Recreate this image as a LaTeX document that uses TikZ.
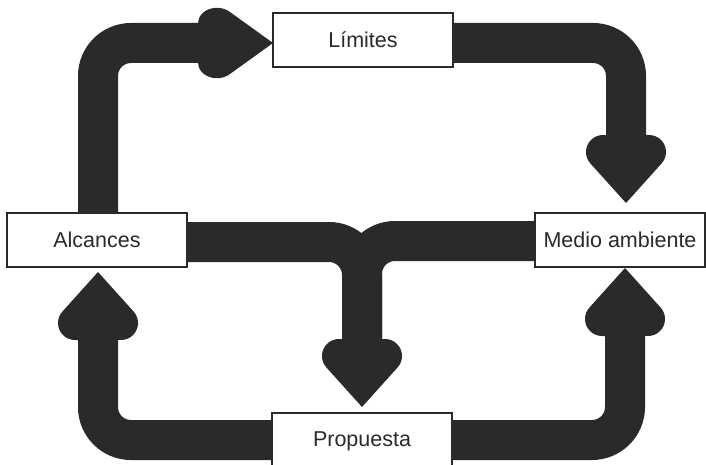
\documentclass[tikz,border=0pt]{standalone}
\usepackage{fontspec}
\setmainfont{Liberation Sans}
\usetikzlibrary{calc}
\pgfdeclarelayer{back}
\pgfdeclarelayer{bg}
\pgfsetlayers{back,bg,main}
\definecolor{ink}{RGB}{42,42,42}
\tikzset{
  box/.style={draw=ink, line width=1.6pt, fill=white, inner sep=0pt, outer sep=0pt,
    minimum height=54pt, font=\fontsize{21.5}{25}\selectfont, text=ink},
  bar/.style={draw=ink, line width=40pt, rounded corners=33pt},
  heart/.pic={\fill[ink] (0,0) -- (-39.61,35.66) arc[start angle=48, end angle=180, radius=17]
      -- (-68,-23) arc[start angle=180, end angle=312, radius=17] -- cycle;}
}
\begin{document}
\begin{tikzpicture}[x=1pt, y=-1pt]
\clip (0,0) rectangle (706,465);
\begin{pgfonlayer}{back}
\fill[white] (0,0) rectangle (706,465);
\end{pgfonlayer}
\node[box, minimum width=180pt] (lim) at (363,40) {Límites};
\node[box, minimum width=180pt] (alc) at (97,240) {Alcances};
\node[box, minimum width=170pt] (med) at (620,240) {Medio ambiente};
\node[box, minimum width=180pt, minimum height=57pt] (pro) at (362,441.5) {Propuesta};
\coordinate (t1) at ($(lim.west)+(0,3)$);
\coordinate (t2) at ($(med.north)+(6,-10)$);
\coordinate (t3) at ($(pro.north)+(0,-6)$);
\coordinate (t4) at ($(alc.south)+(1,5)$);
\coordinate (t5) at ($(med.south)+(5,1)$);
\begin{pgfonlayer}{bg}
\draw[bar] ($(alc.north)+(1,0)$) |- ($(t1)+(-66,0)$);
\draw[bar] ($(lim.east)+(0,3)$) -| ($(t2)+(0,-60)$);
\draw[bar] ($(alc.east)+(0,2)$) -| ($(t3)+(0,-60)$);
\draw[bar] ($(med.west)+(0,1)$) -| ($(t3)+(0,-60)$);
\draw[bar] ($(pro.west)+(0,-1.5)$) -| ($(t4)+(0,60)$);
\draw[bar] ($(pro.east)+(0,-1.5)$) -| ($(t5)+(0,60)$);
\pic[xscale=1.1, yscale=0.88] at (t1) {heart};
\pic[rotate=-90] at (t2) {heart};
\pic[rotate=-90] at (t3) {heart};
\pic[rotate=90] at (t4) {heart};
\pic[rotate=90] at (t5) {heart};
\end{pgfonlayer}
\end{tikzpicture}
\end{document}
